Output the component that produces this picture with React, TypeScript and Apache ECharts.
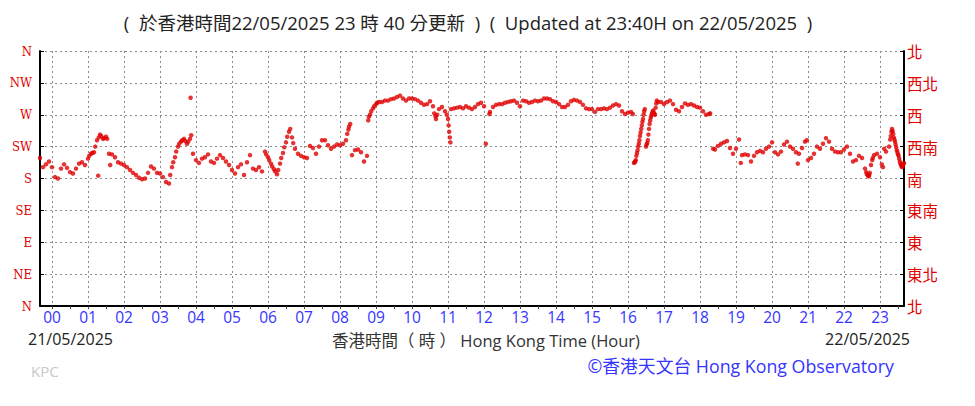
import React, { useEffect, useRef } from "react";
import * as echarts from "echarts";

// minute offsets from 00:00 on 22/05/2025 (negative = previous evening)
const axisStartMinute = -20;
const axisEndMinute = 1420;
const hourLabels = ["00","01","02","03","04","05","06","07","08","09","10","11","12","13","14","15","16","17","18","19","20","21","22","23"];
const leftDirLabels = ["N", "NE", "E", "SE", "S", "SW", "W", "NW", "N"];
const rightDirLabels = ["北", "東北", "東", "東南", "南", "西南", "西", "西北", "北"];

// [minute, wind direction in degrees]
const nightReadings: [number, number][] = [
  [-20,209],[-15,196],[-10,200],[-5,204],[0,196],[5,182],[10,180],[15,194],[20,200],[25,195],
  [30,189],[35,187],[40,194],[45,201],[50,203],[55,199],[60,208],[62,212],[65,215],[67,216],[70,217],[72,225],[75,234],
  [77,184],[78,238],[80,242],[82,240],[85,236],[87,237],[90,239],[92,236],[95,215],[97,199],[100,214],[105,210],[110,203],[115,201],
  [120,199],[125,196],[130,192],[135,188],[140,185],[145,181],[150,179],[155,180],[160,188],[165,197],
  [170,194],[175,188],[180,187],[185,182],[190,175],[195,173],[197,185],[200,196],[202,203],[205,210],[207,218],[210,225],[212,229],[215,232],[217,234],
  [220,236],[222,233],[225,229],[227,232],[230,236],[231,294],[232,241],[235,215],[240,206],[245,202],[250,208],[255,210],
  [260,214],[265,204],[270,202],[275,208],[280,213],[285,209],[290,204],[295,199],[300,192],[305,187],
  [310,196],[315,200],[320,185],[325,203],[330,213],[335,194],[340,192],[345,196],[350,190],[355,218],[357,214],
  [360,210],[362,206],[365,201],[367,197],[370,193],[372,190],[375,186],[377,192],[380,201],[382,209],[385,216],[387,224],[390,231],[392,239],[395,246],[397,250],[400,238],[402,230],[405,222],
  [410,215],[415,212],[420,210],[425,209],[430,226],[435,223],[440,215],[445,225],[450,234],[455,234],
  [460,227],[465,222],[470,225],[475,228],[480,227],[485,229],[490,234],[492,243],[494,249],[495,253],[497,257],[500,213],
  [505,220],[510,221],[515,217],[520,204],[525,212]
];

const westerlyReadings: [number, number][] = [
  [527,262],[528,267],[530,270],[532,275],[535,279],[537,282],[540,285],[542,287],[545,288],[550,288],[555,290],[560,290],[565,292],[570,293],
  [575,295],[580,297],[585,293],[590,290],[595,293],[600,293],[605,292],[610,290],[615,287],[620,284],
  [625,285],[630,289],[635,282],[637,272],[639,268],[640,264],[642,270],[645,278],[650,281],[655,275],[658,270],[660,264],[661,255],[662,246],[663,238],[664,231],
  [665,278],[670,279],[675,280],[680,281],[685,279],[690,282],[695,280],[700,278],[705,281],[710,285],
  [715,287],[720,282],[723,229],[729,271],[730,274],[735,281],[740,284],[745,285],[750,285],[755,287],
  [760,288],[765,289],[770,290],[775,287],[780,282],[785,290],[790,289],[795,287],[800,288],[805,290],
  [810,289],[815,290],[820,293],[825,293],[830,292],[835,289],[840,288],[845,285],[850,281],[855,281],
  [860,284],[865,289],[870,291],[875,290],[880,288],[885,284],[890,279],[895,278],[900,278],[905,274],
  [910,278],[915,278],[920,279],[925,278],[930,280],[935,283],[940,285],[945,283],[950,275],[955,271],
  [960,273],[965,274],[968,271],[970,202],[971,203],[972,204],[973,206],[974,212],[975,216],[976,220],[977,225],[978,229],[979,234],[980,240],[981,245],[982,250],[983,255],[984,260],[985,264],[986,270],[987,275],[988,278],
  [990,225],[991,228],[992,230],[993,234],[994,242],[995,250],[996,257],[997,262],[998,266],[999,269],[1000,272],[1001,274],[1002,276],[1003,273],[1004,271],[1005,270],[1006,280],[1007,286],[1008,290],[1010,288],[1015,288],[1020,285],
  [1025,288],[1030,290],[1035,285],[1040,277],[1045,275],[1050,281],[1055,286],[1060,284],[1065,285],[1070,283],
  [1075,281],[1080,280],[1085,275],[1090,270],[1095,271],[1097,272]
];

const eveningReadings: [number, number][] = [
  [1102,222],[1105,221],[1110,226],[1115,229],[1120,231],[1125,233],[1130,223],[1135,215],[1140,222],[1145,235],
  [1148,202],[1150,213],[1155,214],[1160,213],[1165,204],[1170,212],[1175,217],[1180,219],[1185,217],[1190,222],
  [1195,225],[1200,231],[1205,217],[1210,214],[1215,218],[1220,228],[1225,232],[1230,225],[1235,222],[1240,217],
  [1243,201],[1245,215],[1250,223],[1255,232],[1258,234],[1260,206],[1265,209],[1270,215],[1275,225],[1280,222],
  [1285,229],[1290,237],[1295,232],[1300,222],[1305,218],[1310,217],[1315,217],[1320,221],[1325,225],[1330,215],
  [1335,204],[1340,206],[1345,212],[1350,209],[1355,194],[1357,189],[1358,186],[1360,184],[1361,183],[1362,185],[1363,188],[1365,199],[1367,206],[1368,209],[1370,213],[1375,215],
  [1380,210],[1383,200],[1385,196],[1387,222],[1390,218],[1395,225],[1397,235],[1398,240],[1399,246],[1400,250],[1401,247],[1402,243],[1403,238],[1404,235],[1405,232],[1406,228],[1407,224],[1408,220],
  [1409,217],[1410,214],[1411,212],[1412,208],[1413,204],[1414,201],[1415,199],[1416,197],[1417,196],[1418,198],[1419,200],[1420,202]
];

const categories: string[] = [];
for (let m = axisStartMinute; m <= axisEndMinute; m++) categories.push(String(m));

const isHour = (idx: number) => (idx + axisStartMinute) % 60 === 0;
const isHalf = (idx: number) => (idx + axisStartMinute) % 30 === 0 && !isHour(idx);
const isHalfOrHour = (idx: number) => (idx + axisStartMinute) % 30 === 0;

const RED = "#e00000";
const BLUE = "#3535ff";
const SANS = '"Segoe UI", "Open Sans", "Noto Sans CJK TC", sans-serif';
const CJK = '"Noto Sans CJK TC", "Noto Sans", sans-serif';

export default function App() {
  const ref = useRef<HTMLDivElement>(null);
  useEffect(() => {
    if (!ref.current) return;
    const chart = echarts.init(ref.current, undefined, { renderer: "svg" });
    const points = [...nightReadings, ...westerlyReadings, ...eveningReadings].map(
      ([m, d]) => [m - axisStartMinute, d]
    );
    const dotted = { color: "#8c8c8c", width: 1, type: [2, 3] as number[] };
    chart.setOption({
      animation: false,
      backgroundColor: "#ffffff",
      grid: { left: 40, right: 71, top: 51, bottom: 100, containLabel: false },
      xAxis: [
        {
          type: "category",
          data: categories,
          boundaryGap: false,
          position: "bottom",
          axisLine: { show: true, onZero: false, lineStyle: { color: "#000", width: 2 } },
          axisTick: { show: true, inside: false, length: 3, interval: (i: number) => isHalf(i), lineStyle: { color: "#000", width: 1 } },
          axisLabel: {
            show: true,
            interval: (i: number) => isHour(i),
            formatter: (v: string) => hourLabels[Number(v) / 60] ?? "",
            color: BLUE,
            fontSize: 15.5,
            fontFamily: SANS,
            margin: 3,
          },
          splitLine: { show: true, interval: (i: number) => isHour(i), lineStyle: dotted },
        },
        {
          type: "category",
          data: categories,
          boundaryGap: false,
          position: "top",
          axisLine: { show: false },
          axisTick: { show: true, inside: true, length: 3, interval: (i: number) => isHalfOrHour(i), lineStyle: { color: "#444", width: 1 } },
          axisLabel: { show: false },
          splitLine: { show: false },
        },
      ],
      yAxis: [
        {
          type: "value",
          min: 0,
          max: 360,
          interval: 45,
          position: "left",
          axisLine: { show: true, lineStyle: { color: "#000", width: 2 } },
          axisTick: { show: true, inside: true, length: 4, lineStyle: { color: "#000", width: 1 } },
          axisLabel: {
            formatter: (v: number) => leftDirLabels[Math.round(v / 45)],
            color: RED,
            fontSize: 13,
            fontFamily: '"DejaVu Serif Condensed", "Liberation Serif", serif',
            margin: 8,
          },
          splitLine: { show: true, lineStyle: dotted },
        },
        {
          type: "value",
          min: 0,
          max: 360,
          interval: 45,
          position: "right",
          axisLine: { show: true, lineStyle: { color: "#000", width: 2 } },
          axisTick: { show: true, inside: true, length: 4, lineStyle: { color: "#000", width: 1 } },
          axisLabel: {
            formatter: (v: number) => rightDirLabels[Math.round(v / 45)],
            color: RED,
            fontSize: 15.5,
            fontFamily: CJK,
            margin: 3,
          },
          splitLine: { show: false },
        },
      ],
      series: [
        {
          type: "scatter",
          xAxisIndex: 0,
          yAxisIndex: 0,
          data: points,
          symbol: "circle",
          symbolSize: 4.5,
          itemStyle: { color: RED },
          silent: true,
        },
      ],
      graphic: [
        {
          type: "text",
          x: 468,
          y: 22,
          style: {
            text: "(  於香港時間22/05/2025 23 時 40 分更新  )  (  Updated at 23:40H on 22/05/2025  )",
            fill: "#222",
            fontSize: 18.5,
            fontFamily: SANS,
            textAlign: "center",
            textVerticalAlign: "middle",
          },
        },
        {
          type: "text",
          x: 28,
          y: 339,
          style: { text: "21/05/2025", fill: "#222", fontSize: 16, fontFamily: SANS, textAlign: "left", textVerticalAlign: "middle" },
        },
        {
          type: "text",
          x: 910,
          y: 339,
          style: { text: "22/05/2025", fill: "#222", fontSize: 16, fontFamily: SANS, textAlign: "right", textVerticalAlign: "middle" },
        },
        {
          type: "text",
          x: 332,
          y: 340,
          style: { text: "香港時間（ 時 ） Hong Kong Time (Hour)", fill: "#333", fontSize: 16.5, fontFamily: SANS, textAlign: "left", textVerticalAlign: "middle" },
        },
        {
          type: "text",
          x: 894,
          y: 366,
          style: { text: "©香港天文台 Hong Kong Observatory", fill: BLUE, fontSize: 17.8, fontFamily: SANS, textAlign: "right", textVerticalAlign: "middle" },
        },
        {
          type: "text",
          x: 31,
          y: 371,
          style: { text: "KPC", fill: "#c8c8c8", fontSize: 15, fontFamily: SANS, textAlign: "left", textVerticalAlign: "middle" },
        },
      ],
    });
    return () => chart.dispose();
  }, []);
  return (
    <div
      ref={ref}
      style={{ position: "fixed", left: 0, top: 0, width: 975, height: 406, background: "#fff" }}
    />
  );
}
